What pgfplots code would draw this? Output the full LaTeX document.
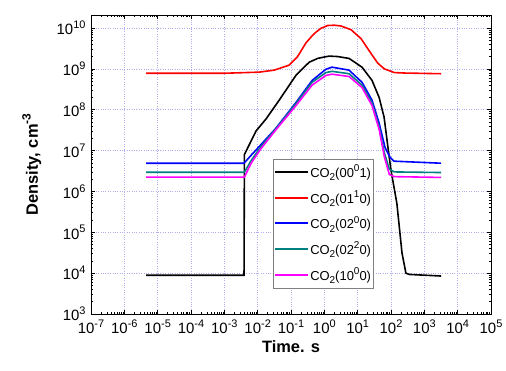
\documentclass[border=0pt]{standalone}
\usepackage{pgfplots}
\pgfplotsset{compat=1.18}
\usepackage{fontspec}
\setmainfont{Liberation Sans}
\definecolor{cteal}{RGB}{0,128,128}
\definecolor{cmag}{RGB}{255,0,255}
\definecolor{cblue}{RGB}{0,0,255}
\definecolor{cred}{RGB}{255,0,0}
\definecolor{gridc}{RGB}{175,175,240}
\newcommand{\tp}[1]{10\raisebox{0.42em}{\fontsize{11}{12}\selectfont #1}}
\newcommand{\sbr}[1]{\raisebox{-0.25em}{\fontsize{10}{12}\selectfont #1}}
\newcommand{\spr}[1]{\raisebox{0.45em}{\fontsize{10}{12}\selectfont #1}}
\begin{document}
\begin{tikzpicture}
\useasboundingbox (-91bp,-57bp) rectangle (415bp,314bp);
\begin{axis}[
  scale only axis, width=400bp, height=299bp,
  xmode=log, ymode=log,
  xmin=1e-7, xmax=1e5, ymin=1e3, ymax=2.08e10,
  xtick={1e-7,1e-6,1e-5,1e-4,1e-3,1e-2,1e-1,1,1e1,1e2,1e3,1e4,1e5},
  xticklabels={\tp{-7},\tp{-6},\tp{-5},\tp{-4},\tp{-3},\tp{-2},\tp{-1},\tp{0},\tp{1},\tp{2},\tp{3},\tp{4},\tp{5}},
  ytick={1e3,1e4,1e5,1e6,1e7,1e8,1e9,1e10},
  yticklabels={\tp{3},\tp{4},\tp{5},\tp{6},\tp{7},\tp{8},\tp{9},\tp{10}},
  tick label style={font=\fontsize{15}{17}\selectfont},
  xticklabel style={yshift=-2bp},
  yticklabel style={xshift=-2bp},
  tick align=inside,
  major tick length=4bp, minor tick length=2.5bp,
  grid=major,
  major grid style={dotted, gridc, line width=0.6pt},
  axis line style={line width=0.9pt},
  every tick/.style={black, line width=0.6pt},
  xlabel={\textbf{Time. s}},
  ylabel={\textbf{Density, cm\raisebox{0.45em}{\fontsize{12}{13}\selectfont -3}}},
  label style={font=\fontsize{16.5}{18}\selectfont},
  xlabel style={at={(axis description cs:0.5,-0.11)}, anchor=center},
  ylabel style={at={(axis description cs:-0.148,0.5)}, anchor=center},
  legend style={at={(axis description cs:0.455,0.087)}, anchor=south west,
    draw=gray, font=\fontsize{13}{15}\selectfont,
    nodes={inner xsep=1.5pt, inner ysep=1pt},
    row sep=9.5pt, inner xsep=1pt, inner ysep=5pt, cells={anchor=west}},
  legend image code/.code={\draw[#1, line width=2pt] plot coordinates {(0cm,0cm) (1.15cm,0cm)};},
]
\addplot[black, line width=1.6pt] coordinates {
(4.5e-6,8.9e3) (3.9e-3,8.9e3) (4.0e-3,8.0e6) (5.5e-3,1.35e7) (8.9e-3,3.0e7)
(1.8e-2,6.0e7) (4.4e-2,1.7e8) (0.14,6.9e8) (0.35,1.45e9) (0.63,1.8e9) (1.0,1.95e9)
(1.4,2.05e9) (2.5,2.0e9) (5.5,1.8e9) (13.5,1.1e9) (27,5.2e8) (44,2.0e8)
(62,6.6e7) (81,1.2e7) (100,3.3e6) (150,5.1e5) (214,3.1e4) (280,1.0e4)
(350,9.3e3) (3.2e3,8.5e3)};
\addlegendentry{CO\sbr{2}(00\spr{0}1)}
\addplot[cred, line width=1.6pt] coordinates {
(4.5e-6,7.8e8) (1e-3,7.8e8) (1.1e-2,8.3e8) (3.16e-2,9.3e8) (8.7e-2,1.23e9)
(0.158,2.0e9) (0.28,4.3e9) (0.4,6.0e9) (0.56,7.9e9) (0.79,9.8e9) (1.26,1.15e10)
(2.0,1.17e10) (3.16,1.12e10) (6.3,9.1e9) (12.6,5.5e9) (25,2.4e9) (40,1.38e9)
(63,1.0e9) (126,8.1e8) (251,7.9e8) (3.2e3,7.6e8)};
\addlegendentry{CO\sbr{2}(01\spr{1}0)}
\addplot[cblue, line width=1.6pt] coordinates {
(4.5e-6,4.9e6) (3.9e-3,4.9e6) (6.3e-3,7.6e6) (1.26e-2,1.4e7) (3.5e-2,3.5e7)
(0.141,1.5e8) (0.43,5.2e8) (1.12,9.8e8) (1.7,1.1e9) (5.5,9.3e8)
(13.5,4.7e8) (27,1.7e8) (44,4.7e7) (66,1.2e7) (93,6.9e6) (123,5.5e6)
(3.2e3,4.9e6)};
\addlegendentry{CO\sbr{2}(02\spr{0}0)}
\addplot[cteal, line width=1.6pt] coordinates {
(4.5e-6,2.95e6) (4.0e-3,2.95e6) (6.3e-3,5.6e6) (1.26e-2,1.26e7) (3.5e-2,3.4e7)
(0.141,1.41e8) (0.43,4.7e8) (1.12,8.1e8) (1.7,8.7e8) (5.5,7.6e8)
(13.5,4.0e8) (27,1.45e8) (44,3.8e7) (63,8.9e6) (89,3.5e6) (126,3.0e6)
(3.2e3,2.9e6)};
\addlegendentry{CO\sbr{2}(02\spr{2}0)}
\addplot[cmag, line width=1.6pt] coordinates {
(4.5e-6,2.24e6) (4.0e-3,2.24e6) (6.3e-3,4.8e6) (1.26e-2,1.12e7) (3.5e-2,3.2e7)
(0.141,1.26e8) (0.43,4.0e8) (1.12,6.9e8) (1.7,7.4e8) (5.5,6.5e8)
(13.5,3.5e8) (27,1.26e8) (44,3.3e7) (63,7.1e6) (89,2.6e6) (126,2.3e6)
(3.2e3,2.2e6)};
\addlegendentry{CO\sbr{2}(10\spr{0}0)}
\end{axis}
\end{tikzpicture}
\end{document}
